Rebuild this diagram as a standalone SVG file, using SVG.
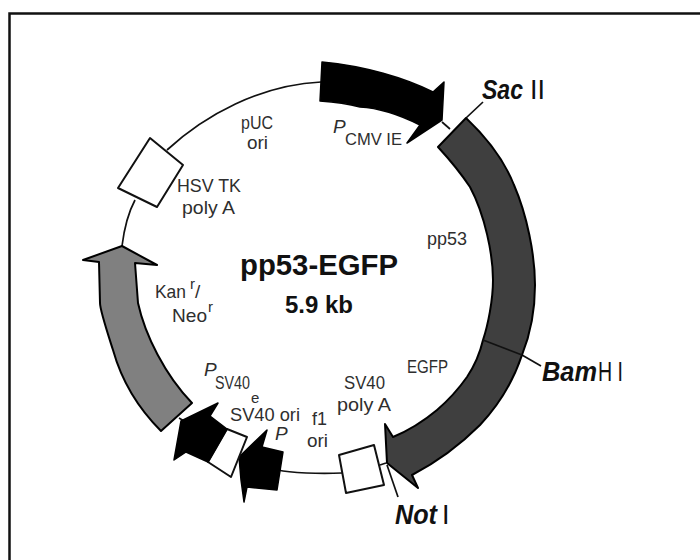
<svg xmlns="http://www.w3.org/2000/svg" width="700" height="560" viewBox="0 0 700 560">
<style>
text{font-family:"Liberation Sans",Arial,sans-serif;fill:#2e2e2e;font-size:19px}
.s{font-size:15px}
.b{font-weight:bold;fill:#111}
.bi{font-weight:bold;font-style:italic;fill:#111;font-size:28px}
.o{fill:#111;font-size:27px}
.i{font-style:italic}
.bl{fill:#000;stroke:#000;stroke-width:1.5;stroke-linejoin:round}
.w{fill:#fff;stroke:#111;stroke-width:2;stroke-linejoin:round}
.dk{fill:#3f3f3f;stroke:#000;stroke-width:2;stroke-linejoin:round}
.gr{fill:#808080;stroke:#000;stroke-width:2;stroke-linejoin:round}
.ln{fill:none;stroke:#111;stroke-width:1.7}
</style>
<rect width="700" height="560" fill="#fff"/>
<path d="M9.500 560V13.500H700" fill="none" stroke="#111" stroke-width="2.500"/>
<g id="connectors">
<path class="ln" d="M321 82C260 85 205 115 167 150"/>
<path class="ln" d="M135 200C127 215 124 230 122 246"/>
<path class="ln" d="M442 122L450 129"/>
<path class="ln" d="M278 470C290 473 320 474 342 473"/>
<path class="ln" d="M466 118L483 102"/>
<path class="ln" d="M522 355L541 366"/>
<path class="ln" d="M380 465L386 463"/>
<path class="ln" d="M387 465L398 497"/>
<path class="ln" d="M179 418L184 421"/>
</g>
<g id="pcmv"><path class="bl" d="M322 62C365 66 405 78 433 92L444 82L442 120L407 143L420 125C400 115 380 108 360 107C345 103 335 102 320 101Z"/></g>
<g id="pp53"><path class="dk" d="M466 118C485 136 503 157 514 185C527 215 535 255 535 285C535 310 530 335 522 355C512 385 497 407 480 425C460 445 435 463 412 475L418 488L387 463L385 424L393 437C410 430 425 420 437 410C452 397 460 387 467 377C475 365 480 353 483 340C488 325 493 300 493 280C493 255 485 215 470 187C460 172 450 160 438 147Z"/><path class="ln" d="M483 340L522 355"/></g>
<g id="polya"><path class="w" d="M339 455L374 445L384 485L346 493Z"/></g>
<g id="f1"><path class="bl" d="M267 430L262 447L283 452L277 490L247 487L244 502L241 480L239 457Z"/></g>
<g id="sv40ori"><path class="w" d="M227 429L247 437L231 477L208 462Z"/></g>
<g id="psv40"><path class="bl" d="M218 403L210 416L227 429L208 462L186 452L174 460L181 421Z"/></g>
<g id="kan"><path class="gr" d="M122 246L157 265L135 263L138 303C145 335 165 375 192 403L161 431C135 405 120 375 113 350C105 325 100 310 100 303L99 262L83 260Z"/></g>
<g id="hsv"><path class="w" d="M150 138L183 165L157 207L118 188Z"/></g>
<g id="labels">
<text x="241" y="129" textLength="32" lengthAdjust="spacingAndGlyphs">pUC</text>
<text x="247" y="149" textLength="21" lengthAdjust="spacingAndGlyphs">ori</text>
<text class="i" x="333" y="133">P</text>
<text x="345" y="145" textLength="57" lengthAdjust="spacingAndGlyphs" style="font-size:17px">CMV IE</text>
<text class="bi" x="482" y="99" textLength="41" lengthAdjust="spacingAndGlyphs">Sac</text>
<text class="o" x="530" y="99" textLength="15" lengthAdjust="spacingAndGlyphs">II</text>
<text x="177" y="192" textLength="64" lengthAdjust="spacingAndGlyphs">HSV TK</text>
<text x="182" y="214" textLength="53" lengthAdjust="spacingAndGlyphs">poly A</text>
<text x="427" y="245" textLength="40" lengthAdjust="spacingAndGlyphs">pp53</text>
<text class="b" x="240" y="275" textLength="158" lengthAdjust="spacingAndGlyphs" style="font-size:29px">pp53-EGFP</text>
<text class="b" x="285" y="313" textLength="68" lengthAdjust="spacingAndGlyphs" style="font-size:23px">5.9 kb</text>
<text x="155" y="298" textLength="31" lengthAdjust="spacingAndGlyphs">Kan</text>
<text x="190" y="289" class="s">r</text><text x="195" y="298">/</text>
<text x="172" y="322" textLength="35" lengthAdjust="spacingAndGlyphs">Neo</text>
<text x="208" y="312" class="s">r</text>
<text class="i" x="204" y="376">P</text>
<text x="215" y="389" textLength="35" lengthAdjust="spacingAndGlyphs">SV40</text>
<text class="s" x="251" y="403">e</text>
<text x="230" y="421" textLength="70" lengthAdjust="spacingAndGlyphs">SV40 ori</text>
<text class="i" x="275" y="440">P</text>
<text x="312" y="425" textLength="15" lengthAdjust="spacingAndGlyphs">f1</text>
<text x="307" y="447" textLength="21" lengthAdjust="spacingAndGlyphs">ori</text>
<text x="344" y="389" textLength="41" lengthAdjust="spacingAndGlyphs">SV40</text>
<text x="337" y="411" textLength="54" lengthAdjust="spacingAndGlyphs">poly A</text>
<text x="407" y="373" textLength="41" lengthAdjust="spacingAndGlyphs">EGFP</text>
<text class="bi" x="542" y="381" textLength="55" lengthAdjust="spacingAndGlyphs">Bam</text>
<text class="o" x="598" y="381" textLength="25" lengthAdjust="spacingAndGlyphs">H I</text>
<text class="bi" x="395" y="524" textLength="42" lengthAdjust="spacingAndGlyphs">Not</text>
<text class="o" x="442" y="524">I</text>
</g>
</svg>
